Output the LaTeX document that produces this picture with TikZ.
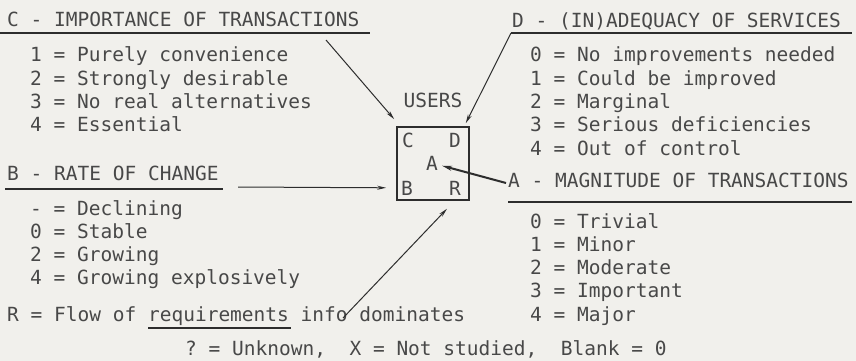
\documentclass[tikz,border=0pt]{standalone}
\usepackage{fontspec}
\setmonofont{DejaVu Sans Mono}
\definecolor{paper}{RGB}{241,240,236}
\definecolor{ink}{RGB}{72,72,72}
\definecolor{inkdark}{RGB}{45,45,45}
\usetikzlibrary{
	arrows.meta,
	positioning
}
\newcommand{\keyfont}{\ttfamily\frenchspacing\fontsize{19.5}{23}\selectfont}
\tikzset{
  % text
	keyhead/.style   ={anchor=base west, inner sep=0pt, text=ink, font=\keyfont},
	keyitem/.style   ={anchor=base west, inner sep=0pt, text=ink, font=\keyfont},
	keyletter/.style ={inner sep=0pt, text=ink, font=\keyfont},
  % line
	keyrule/.style   ={line width=1.3pt, draw=inkdark},
	keylink/.style   ={-{Stealth[length=9pt,width=4pt]}, line width=1pt, draw=inkdark},
	keylinkb/.style  ={-{Stealth[length=10pt,width=5pt]}, line width=2pt, draw=inkdark},
  % node
	keybox/.style    ={draw=inkdark, line width=1.6pt, minimum width=72pt, minimum height=73pt, inner sep=0pt}
}

\begin{document}
\begin{tikzpicture}[x=1pt,y=-1pt]
	\fill[paper] (0,0) rectangle (856,361);
	\useasboundingbox (0,0) rectangle (856,361);
  % users box
	\node[keybox] (users) at (433,163.5) {};
	\node[keyletter, above=18pt of users.north] (ulabel) {USERS};
	\node[keyletter] (lc) at (408,140) {C};
	\node[keyletter] (ld) at (455,140) {D};
	\node[keyletter, inner sep=4pt] (la) at (432,163) {A};
	\node[keyletter] (lb) at (407,188) {B};
	\node[keyletter] (lr) at (455,188) {R};
  % C
	\node[keyhead] (chead) at (7,27) {C - IMPORTANCE OF TRANSACTIONS};
	\draw[keyrule] (0,33) -- (370,33);
	\foreach \t [count=\i from 0] in {1 = Purely convenience, 2 = Strongly desirable, 3 = No real alternatives, 4 = Essential}
		\node[keyitem] (c\i) at (30,62+23.3*\i) {\t};
  % B
	\node[keyhead] (bhead) at (7,180) {B - RATE OF CHANGE};
	\draw[keyrule] (5,189) -- (223,189);
	\foreach \t [count=\i from 0] in {- = Declining, 0 = Stable, 2 = Growing, 4 = Growing explosively}
		\node[keyitem] (b\i) at (30,215+23.3*\i) {\t};
  % R
	\node[keyitem] (rline) at (7,321) {R = Flow of requirements info dominates};
	\draw[keyrule] (148,328) -- (291,328);
  % D
	\node[keyhead] (dhead) at (512,28) {D - (IN)ADEQUACY OF SERVICES};
	\coordinate (dfoot) at (511,33);
	\draw[keyrule] (dfoot) -- (852,33);
	\foreach \t [count=\i from 0] in {0 = No improvements needed, 1 = Could be improved, 2 = Marginal, 3 = Serious deficiencies, 4 = Out of control}
		\node[keyitem] (d\i) at (530,62+23.3*\i) {\t};
  % A
	\node[keyhead] (ahead) at (508,187) {A - MAGNITUDE OF TRANSACTIONS};
	\draw[keyrule] (508,202) -- (852,202);
	\foreach \t [count=\i from 0] in {0 = Trivial, 1 = Minor, 2 = Moderate, 3 = Important, 4 = Major}
		\node[keyitem] (a\i) at (530,228+23.3*\i) {\t};
  % legend
	\node[keyitem] (foot) at (185,355) {? = Unknown,~~X = Not studied,~~Blank = 0};
  % arrows
	\coordinate (cfoot) at (326,40);
	\draw[keylink] (cfoot) -- ([shift={(-2,-7)}]users.north west);
	\draw[keylink] (dfoot) -- ([shift={(-4,-3)}]users.north east);
	\coordinate (bfoot) at (238,187);
	\draw[keylink] (bfoot) -- ([shift={(-10,-13)}]users.south west);
	\coordinate (afoot) at (506,183);
	\draw[keylinkb] (afoot) -- (la);
	\coordinate (rfoot) at (343,318);
	\draw[keylink] (rfoot) -- ([shift={(14,8)}]users.south);
\end{tikzpicture}
\end{document}
